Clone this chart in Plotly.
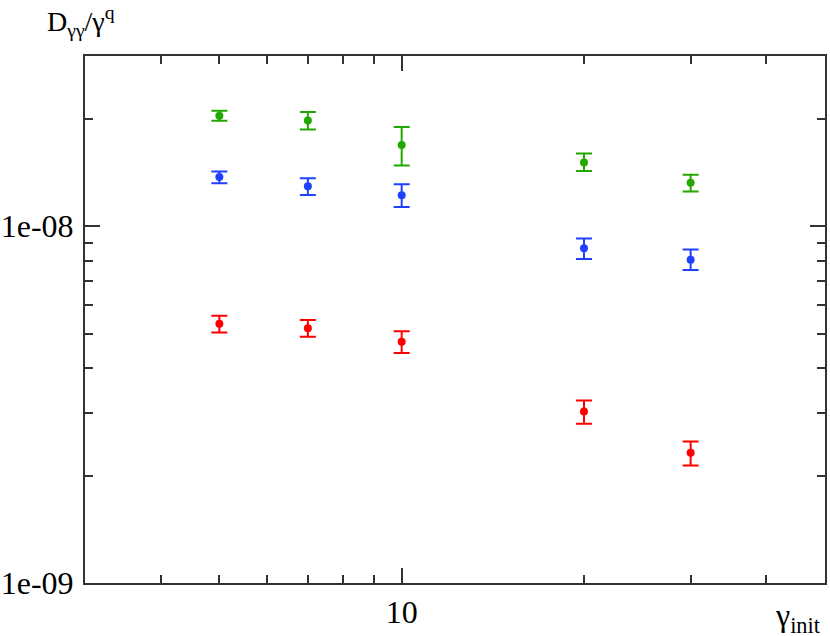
import plotly.graph_objects as go

gamma_init = [5, 7, 10, 20, 30]

green_vals = [2.040e-8, 1.980e-8, 1.688e-8, 1.509e-8, 1.323e-8]
green_hi = [2.107e-8, 2.089e-8, 1.896e-8, 1.600e-8, 1.393e-8]
green_lo = [1.975e-8, 1.868e-8, 1.480e-8, 1.429e-8, 1.251e-8]

blue_vals = [1.375e-8, 1.295e-8, 1.222e-8, 0.868e-8, 0.806e-8]
blue_hi = [1.424e-8, 1.364e-8, 1.312e-8, 0.924e-8, 0.860e-8]
blue_lo = [1.320e-8, 1.224e-8, 1.133e-8, 0.810e-8, 0.754e-8]

red_vals = [0.533e-8, 0.518e-8, 0.4747e-8, 0.3026e-8, 0.2317e-8]
red_hi = [0.5615e-8, 0.546e-8, 0.5074e-8, 0.3248e-8, 0.2492e-8]
red_lo = [0.504e-8, 0.490e-8, 0.441e-8, 0.2795e-8, 0.2135e-8]

series = [
    (green_vals, green_hi, green_lo, "#22a800"),
    (blue_vals, blue_hi, blue_lo, "#2040ff"),
    (red_vals, red_hi, red_lo, "#ff0000"),
]

x_major = [10]
x_major_text = ["10"]
x_minor = [3, 4, 5, 6, 7, 8, 9, 20, 30, 40, 50]
y_major = [1e-9, 1e-8]
y_major_text = ["1e-09", "1e-08"]
y_minor = [2e-9, 3e-9, 4e-9, 5e-9, 6e-9, 7e-9, 8e-9, 9e-9, 2e-8, 3e-8]

fig = go.Figure()
for vals, hi, lo, col in series:
    fig.add_trace(go.Scatter(
        x=gamma_init, y=vals, mode="markers",
        marker=dict(color=col, size=8),
        error_y=dict(type="data", symmetric=False,
                     array=[h - v for h, v in zip(hi, vals)],
                     arrayminus=[v - l for v, l in zip(vals, lo)],
                     color=col, thickness=2, width=8),
        showlegend=False,
    ))

FAM = "Liberation Serif"
tickfont = dict(family=FAM, size=32, color="black")

axis_common = dict(
    showline=True, linecolor="#333", linewidth=2, mirror="ticks",
    ticks="inside", ticklen=15, tickwidth=1.5, tickcolor="#333",
    tickmode="array", showgrid=False, zeroline=False, tickfont=tickfont,
    automargin=False,
)

fig.update_layout(
    width=830, height=636,
    margin=dict(l=85, r=5, t=56, b=53),
    plot_bgcolor="white", paper_bgcolor="white",
    font=dict(family=FAM, size=30, color="black"),
    xaxis=dict(type="log", range=[0.47712, 1.69897],
               tickvals=x_major, ticktext=x_major_text,
               minor=dict(ticks="inside", ticklen=8, tickwidth=1.5, tickcolor="#333",
                          tickmode="array", tickvals=x_minor, showgrid=False),
               **axis_common),
    yaxis=dict(type="log", range=[-9, 1.477121 - 9],
               tickvals=y_major, ticktext=y_major_text,
               minor=dict(ticks="inside", ticklen=8, tickwidth=1.5, tickcolor="#333",
                          tickmode="array", tickvals=y_minor, showgrid=False),
               ticklabelstandoff=3,
               **axis_common),
    annotations=[
        dict(text="D<sub>γγ</sub>/γ<sup>q</sup>", xref="paper", yref="paper",
             x=-0.054, y=1.0, yshift=13, xanchor="left", yanchor="bottom",
             showarrow=False, font=dict(family=FAM, size=28, color="black")),
        dict(text="γ<sub>init</sub>", xref="paper", yref="paper",
             x=1.0, y=0, xshift=-2, yshift=-12, xanchor="right", yanchor="top",
             showarrow=False, font=dict(family=FAM, size=32, color="black")),
    ],
)

fig.write_html("out.html", config={"displayModeBar": False},
               post_script="document.body.style.margin='0';")
